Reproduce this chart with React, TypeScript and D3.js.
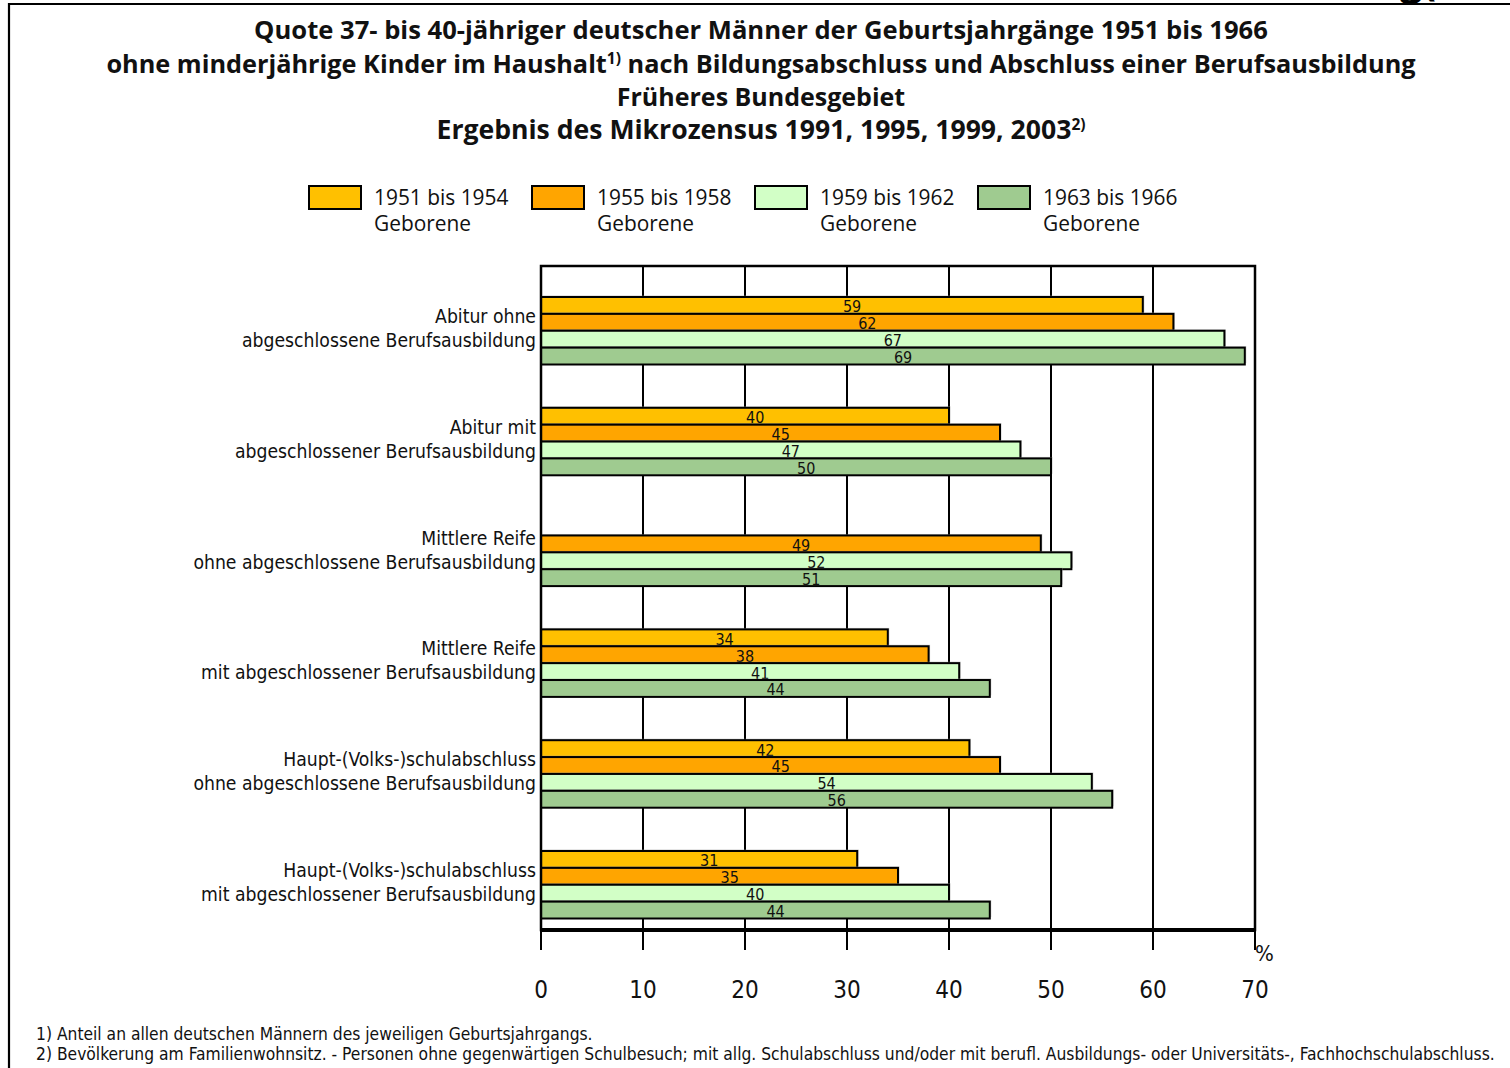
import React from "react";
import * as d3 from "d3";

const categories = [
  ["Abitur ohne", "abgeschlossene Berufsausbildung"],
  ["Abitur mit", "abgeschlossener Berufsausbildung"],
  ["Mittlere Reife", "ohne abgeschlossene Berufsausbildung"],
  ["Mittlere Reife", "mit abgeschlossener Berufsausbildung"],
  ["Haupt-(Volks-)schulabschluss", "ohne abgeschlossene Berufsausbildung"],
  ["Haupt-(Volks-)schulabschluss", "mit abgeschlossener Berufsausbildung"],
];
const seriesNames = ["1951 bis 1954", "1955 bis 1958", "1959 bis 1962", "1963 bis 1966"];
const seriesColors = ["#FFC000", "#FFA500", "#D2FFC6", "#9FCB90"];
const s1951 = [59, 40, null, 34, 42, 31];
const s1955 = [62, 45, 49, 38, 45, 35];
const s1959 = [67, 47, 52, 41, 54, 40];
const s1963 = [69, 50, 51, 44, 56, 44];
const series = [s1951, s1955, s1959, s1963];
const xTicks = [0, 10, 20, 30, 40, 50, 60, 70];

const W = 1510;
const H = 1068;
const plot = { left: 541, right: 1255, top: 266, bottom: 930 };
const labelFont = "'DejaVu Sans Condensed', sans-serif";
const titleFont = "'Open Sans', 'DejaVu Sans', sans-serif";

export default function App() {
  const x = d3.scaleLinear().domain([0, 70]).range([plot.left, plot.right]);
  const catIdx = categories.map((_, i) => String(i));
  const y = d3.scaleBand().domain(catIdx).range([plot.top + 31, plot.top + 31 + 6 * 110.8]).padding(0);
  const inner = d3.scaleBand().domain(["0", "1", "2", "3"]).range([0, 67.5]).padding(0);

  return (
    <svg
      width={W}
      height={H}
      style={{ position: "absolute", left: 0, top: 0, background: "#fff" }}
      xmlns="http://www.w3.org/2000/svg"
    >
      {/* outer frame */}
      <path d={`M9,${H + 10} L9,4 L${W + 10},4`} fill="none" stroke="#000" strokeWidth={2.2} />
      <text x={1400} y={-5} fontFamily={titleFont} fontWeight={700} fontSize={40} fill="#000">g(</text>

      {/* title */}
      <g fontFamily={titleFont} fontWeight={700} fontSize={25.6} textAnchor="middle" fill="#111">
        <text x={761} y={39}>Quote 37- bis 40-jähriger deutscher Männer der Geburtsjahrgänge 1951 bis 1966</text>
        <text x={761} y={73} fontSize={25.3}>
          ohne minderjährige Kinder im Haushalt
          <tspan fontSize={15.5} dy={-9}>1)</tspan>
          <tspan dy={9}> nach Bildungsabschluss und Abschluss einer Berufsausbildung</tspan>
        </text>
        <text x={761} y={106} fontSize={25}>Früheres Bundesgebiet</text>
        <text x={761} y={139} fontSize={26.6}>
          Ergebnis des Mikrozensus 1991, 1995, 1999, 2003
          <tspan fontSize={15.5} dy={-9}>2)</tspan>
        </text>
      </g>

      {/* legend */}
      <g fontFamily={titleFont} fontSize={20.9} fill="#111">
        {seriesNames.map((n, i) => (
          <g key={n} transform={`translate(${309 + i * 223},0)`}>
            <rect x={0} y={186} width={52} height={23} fill={seriesColors[i]} stroke="#000" strokeWidth={2} />
            <text x={65} y={205}>{n}</text>
            <text x={65} y={231}>Geborene</text>
          </g>
        ))}
      </g>

      {/* gridlines */}
      {xTicks.map((t) => (
        <line key={t} x1={x(t)} x2={x(t)} y1={plot.top} y2={plot.bottom + 20} stroke="#000" strokeWidth={2} />
      ))}

      {/* bars */}
      {categories.map((_, ci) =>
        series.map((s, si) => {
          const v = s[ci];
          if (v === null) return null;
          const by = (y(String(ci)) as number) + (inner(String(si)) as number);
          const bh = inner.bandwidth();
          return (
            <g key={`${ci}-${si}`}>
              <rect x={x(0) + 1.5} y={by - 1.5} width={x(v) - x(0)} height={bh} fill="#999" opacity={0.5} />
              <rect x={x(0)} y={by} width={x(v) - x(0)} height={bh} fill={seriesColors[si]} stroke="#000" strokeWidth={2} />
              <text x={(x(0) + x(v)) / 2 + 1} y={by + bh - 1.5} fontFamily={labelFont} fontSize={16} fill="#111">{v}</text>
            </g>
          );
        })
      )}

      {/* plot frame */}
      <rect x={plot.left} y={plot.top} width={plot.right - plot.left} height={plot.bottom - plot.top} fill="none" stroke="#000" strokeWidth={2.5} />
      <line x1={plot.left - 1} x2={plot.right + 1} y1={plot.bottom} y2={plot.bottom} stroke="#000" strokeWidth={4} />

      {/* category labels */}
      <g fontFamily={labelFont} fontSize={19.2} textAnchor="end" fill="#111">
        {categories.map((c, ci) => {
          const cy = (y(String(ci)) as number) + 34;
          return (
            <g key={ci}>
              <text x={536} y={cy - 8}>{c[0]}</text>
              <text x={536} y={cy + 16}>{c[1]}</text>
            </g>
          );
        })}
      </g>

      {/* x tick labels */}
      <g fontFamily={labelFont} fontSize={24} textAnchor="middle" fill="#111">
        {xTicks.map((t) => (
          <text key={t} x={x(t)} y={998}>{t}</text>
        ))}
      </g>
      <text x={1255} y={961} fontFamily={labelFont} fontSize={22} fill="#111">%</text>

      {/* footnotes */}
      <g fontFamily={labelFont} fontSize={17.3} fill="#111">
        <text x={36} y={1040}>1) Anteil an allen deutschen Männern des jeweiligen Geburtsjahrgangs.</text>
        <text x={36} y={1060}>2) Bevölkerung am Familienwohnsitz. - Personen ohne gegenwärtigen Schulbesuch; mit allg. Schulabschluss und/oder mit berufl. Ausbildungs- oder Universitäts-, Fachhochschulabschluss.</text>
      </g>
    </svg>
  );
}
